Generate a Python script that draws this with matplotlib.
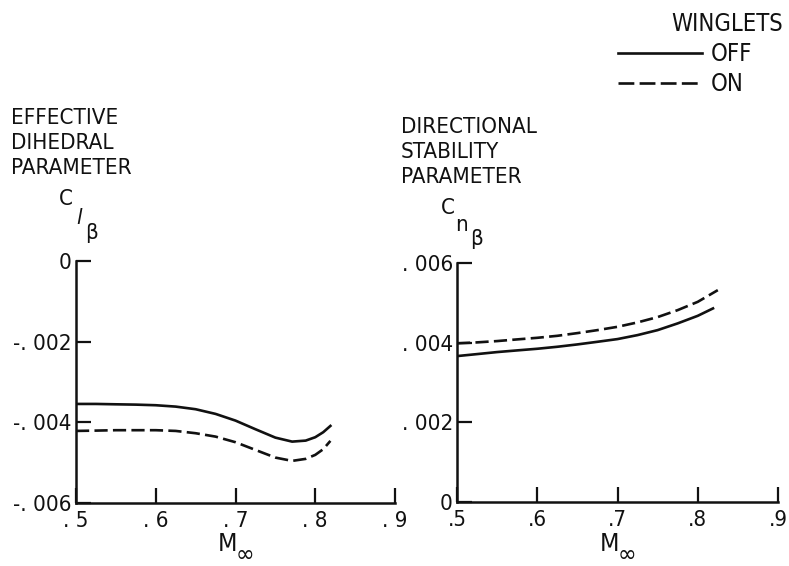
import matplotlib
matplotlib.use("Agg")
import matplotlib.pyplot as plt

plt.rcParams['font.family'] = ['Liberation Sans Narrow', 'DejaVu Sans']
plt.rcParams['font.stretch'] = 'condensed'

# Effective dihedral parameter, C_l_beta
mach_l = [0.5, 0.525, 0.55, 0.575, 0.6, 0.625, 0.65, 0.675, 0.7, 0.725, 0.75, 0.771, 0.788, 0.8, 0.81, 0.819]
clb_off = [-0.003544, -0.003544, -0.003553, -0.003561, -0.003576, -0.003610, -0.003675, -0.003791,
           -0.003957, -0.004171, -0.004379, -0.004478, -0.004453, -0.004369, -0.004245, -0.004089]
clb_on = [-0.004213, -0.004205, -0.004195, -0.004195, -0.004195, -0.004213, -0.004270, -0.004354,
          -0.004493, -0.004684, -0.004874, -0.004956, -0.004906, -0.004807, -0.004666, -0.004460]

# Directional stability parameter, C_n_beta
mach_n_off = [0.5, 0.525, 0.55, 0.575, 0.6, 0.625, 0.65, 0.675, 0.7, 0.725, 0.75, 0.775, 0.8, 0.819]
cnb_off = [0.003663, 0.003713, 0.003764, 0.003806, 0.003847, 0.003897, 0.003956, 0.004022,
           0.004090, 0.004190, 0.004315, 0.004484, 0.004674, 0.004860]
mach_n_on = [0.5, 0.525, 0.55, 0.575, 0.6, 0.625, 0.65, 0.675, 0.7, 0.725, 0.75, 0.775, 0.8, 0.825]
cnb_on = [0.003982, 0.004007, 0.004040, 0.004082, 0.004122, 0.004172, 0.004240, 0.004315,
          0.004398, 0.004509, 0.004642, 0.004817, 0.005025, 0.005319]

xticks = [0.5, 0.6, 0.7, 0.8, 0.9]
xlabels_l = [". 5", ". 6", ". 7", ". 8", ". 9"]
xlabels_r = [".5", ".6", ".7", ".8", ".9"]
yticks_l = [0, -0.002, -0.004, -0.006]
ylabels_l = ["0", "-. 002", "-. 004", "-. 006"]
yticks_r = [0, 0.002, 0.004, 0.006]
ylabels_r = ["0", ". 002", ". 004", ". 006"]

W, H = 789, 566
ink = "#111111"
dash = (0, (5, 2))
fs = 16


def fx(px):
    return px / W


def fy(py):
    return 1 - py / H


def style_axes(ax):
    for s in ["top", "right"]:
        ax.spines[s].set_visible(False)
    for s in ["left", "bottom"]:
        ax.spines[s].set_linewidth(1.8)
        ax.spines[s].set_color(ink)
    ax.tick_params(direction="in", length=11, width=1.6, colors=ink, labelsize=fs)
    ax.tick_params(axis="y", pad=3)
    ax.tick_params(axis="x", pad=6)
    ax.set_xlim(0.5, 0.9)
    ax.set_xticks(xticks)


fig = plt.figure(figsize=(W / 100, H / 100), dpi=100)

ax1 = fig.add_axes([fx(76), fy(503), fx(395) - fx(76), fy(261) - fy(503)])
ax2 = fig.add_axes([fx(457), fy(502), fx(778) - fx(457), fy(263) - fy(502)])

# left panel
ax1.plot(mach_l, clb_off, color=ink, lw=1.9)
ax1.plot(mach_l, clb_on, color=ink, lw=1.9, linestyle=dash)
style_axes(ax1)
ax1.set_ylim(-0.006, 0)
ax1.set_yticks(yticks_l)
ax1.set_yticklabels(ylabels_l)
ax1.set_xticklabels(xlabels_l)

# right panel
ax2.plot(mach_n_off, cnb_off, color=ink, lw=1.9)
ax2.plot(mach_n_on, cnb_on, color=ink, lw=1.9, linestyle=dash)
style_axes(ax2)
ax2.set_ylim(0, 0.006)
ax2.set_yticks(yticks_r)
ax2.set_yticklabels(ylabels_r)
ax2.set_xticklabels(xlabels_r)

# M-infinity axis labels
for mx in (218, 600):
    fig.text(fx(mx), fy(544), "M", fontsize=18, color=ink, ha="left", va="center")
    fig.text(fx(mx + 18), fy(555), "\u221e", fontsize=18, color=ink, ha="left", va="center")

# parameter labels
fig.text(fx(11), fy(143), "EFFECTIVE\nDIHEDRAL\nPARAMETER", fontsize=fs, color=ink,
         ha="left", va="center", linespacing=1.3)
fig.text(fx(401), fy(152), "DIRECTIONAL\nSTABILITY\nPARAMETER", fontsize=fs, color=ink,
         ha="left", va="center", linespacing=1.3)
fig.text(fx(59), fy(199), "C", fontsize=fs, color=ink, ha="left", va="center")
fig.text(fx(76), fy(218), r"$l$", fontsize=fs, color=ink, ha="left", va="center")
fig.text(fx(85), fy(233), "\u03b2", fontsize=fs, color=ink, ha="left", va="center")
fig.text(fx(441), fy(208), "C", fontsize=fs, color=ink, ha="left", va="center")
fig.text(fx(455), fy(225), "n", fontsize=fs, color=ink, ha="left", va="center")
fig.text(fx(470), fy(239), "\u03b2", fontsize=fs, color=ink, ha="left", va="center")

# legend drawn by hand
fig.text(fx(783), fy(24), "WINGLETS", fontsize=17, color=ink, ha="right", va="center")
fig.add_artist(plt.Line2D([fx(618), fx(702)], [fy(53), fy(53)], color=ink, lw=1.9))
fig.add_artist(plt.Line2D([fx(618), fx(702)], [fy(83), fy(83)], color=ink, lw=1.9,
                          linestyle=(0, (6, 2))))
fig.text(fx(711), fy(54), "OFF", fontsize=17, color=ink, ha="left", va="center")
fig.text(fx(711), fy(84), "ON", fontsize=17, color=ink, ha="left", va="center")

fig.savefig("out.png", dpi=100)
